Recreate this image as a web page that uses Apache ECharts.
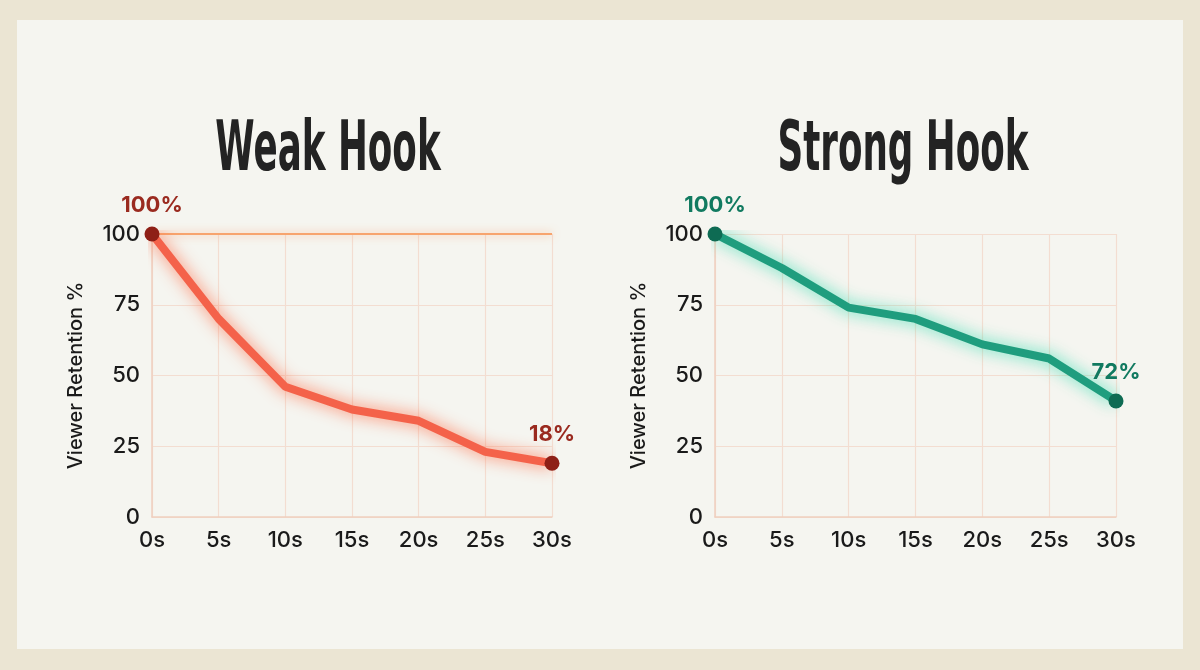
<!DOCTYPE html>
<html>
<head>
<meta charset="utf-8">
<script src="https://cdn.jsdelivr.net/npm/echarts@6/dist/echarts.min.js"></script>
<style>
  html, body { margin: 0; padding: 0; background: #ebe5d3; }
  #chart { width: 1200px; height: 670px; }
</style>
</head>
<body>
<div id="chart"></div>
<script>
var seconds = ['0s', '5s', '10s', '15s', '20s', '25s', '30s'];
var yTicks = [0, 25, 50, 75, 100];
var weakValues = [100, 70, 46, 38, 34, 23, 19];
var weakLabels = ['100%', '', '', '', '', '', '18%'];
var strongValues = [100, 88, 74, 70, 61, 56, 41];
var strongLabels = ['100%', '', '', '', '', '', '72%'];
var titles = ['Weak Hook', 'Strong Hook'];

var gridColor = '#f3ddd1';
var fontBody = 'Inter, Roboto, "Noto Sans", sans-serif';

// endpoints get a dot and a label, middle points get nothing
function buildData(values, labels, dotColor, textColor){
  var out = [];
  for(var i=0; i<values.length; i++){
    if(labels[i]){
      out.push({
        value: values[i],
        symbolSize: 15,
        itemStyle: { color: dotColor },
        label: {
          show: true,
          formatter: labels[i],
          position: 'top',
          distance: 10,
          color: textColor,
          fontSize: 22,
          fontWeight: 'bold',
          fontFamily: fontBody
        }
      });
    }else{
      out.push({ value: values[i], symbolSize: 0 });
    }
  }
  return out;
}

function xAxisOf(idx){
  return {
    type: 'category',
    gridIndex: idx,
    data: seconds,
    boundaryGap: false,
    axisLine: { lineStyle: { color: '#efcfbf', width: 1.5 } },
    axisTick: { show: false },
    axisLabel: { color: '#1a1a1a', fontSize: 22, fontWeight: 500, margin: 12, fontFamily: fontBody },
    splitLine: { show: true, lineStyle: { color: gridColor, width: 1.2 } }
  };
}
function yAxisOf(idx){
  return {
    type: 'value',
    gridIndex: idx,
    min: yTicks[0],
    max: yTicks[yTicks.length - 1],
    interval: 25,
    name: 'Viewer Retention %',
    nameLocation: 'middle',
    nameGap: 66,
    nameTextStyle: { color: '#1a1a1a', fontSize: 20, fontWeight: 500, fontFamily: fontBody },
    axisLine: { show: true, lineStyle: { color: '#efcfbf', width: 1.5 } },
    axisTick: { show: false },
    axisLabel: { color: '#1a1a1a', fontSize: 22, fontWeight: 500, margin: 12, fontFamily: fontBody },
    splitLine: { show: true, lineStyle: { color: gridColor, width: 1.2 } }
  };
}

//标题: 粗体压缩字
function titleText(txt, cx){
  return {
    type: 'text',
    x: cx,
    y: 152,
    scaleX: 0.51,
    style: {
      text: txt,
      fill: '#232323',
      font: '900 70px "DejaVu Sans", sans-serif',
      textAlign: 'center',
      textVerticalAlign: 'middle'
    }
  };
}

var chart = echarts.init(document.getElementById('chart'));
var option = {
  backgroundColor: '#ebe5d3',
  animation: false,
  graphic: [{
    type: 'rect',
    z: -10,
    shape: { x: 17, y: 20, width: 1166, height: 629 },
    style: { fill: '#f5f5f0' }
  }, titleText(titles[0], 328), titleText(titles[1], 903)],
  grid: [
    { left: 152, right: 648, top: 234, bottom: 153 },
    { left: 715, right: 84, top: 234, bottom: 153 }
  ],
  xAxis: [xAxisOf(0), xAxisOf(1)],
  yAxis: [yAxisOf(0), yAxisOf(1)],
  series: [{
    type: 'line',
    xAxisIndex: 0,
    yAxisIndex: 0,
    symbol: 'circle',
    data: buildData(weakValues, weakLabels, '#8e1f16', '#9a2a1f'),
    lineStyle: { color: '#f4624a', width: 8, shadowBlur: 16, shadowColor: 'rgba(255,100,60,0.85)' },
    markLine: {
      silent: true,
      symbol: 'none',
      label: { show: false },
      lineStyle: { color: '#f7a46e', type: 'solid', width: 2, shadowBlur: 8, shadowColor: 'rgba(255,150,90,0.7)' },
      data: [{ yAxis: 100 }]
    },
    z: 5
  }, {
    type: 'line',
    xAxisIndex: 1,
    yAxisIndex: 1,
    symbol: 'circle',
    data: buildData(strongValues, strongLabels, '#0e6b53', '#117a60'),
    lineStyle: { color: '#1f9d7e', width: 8, shadowBlur: 16, shadowColor: 'rgba(50,220,175,0.85)' },
    z: 5
  }]
};
chart.setOption(option);
</script>
</body>
</html>
